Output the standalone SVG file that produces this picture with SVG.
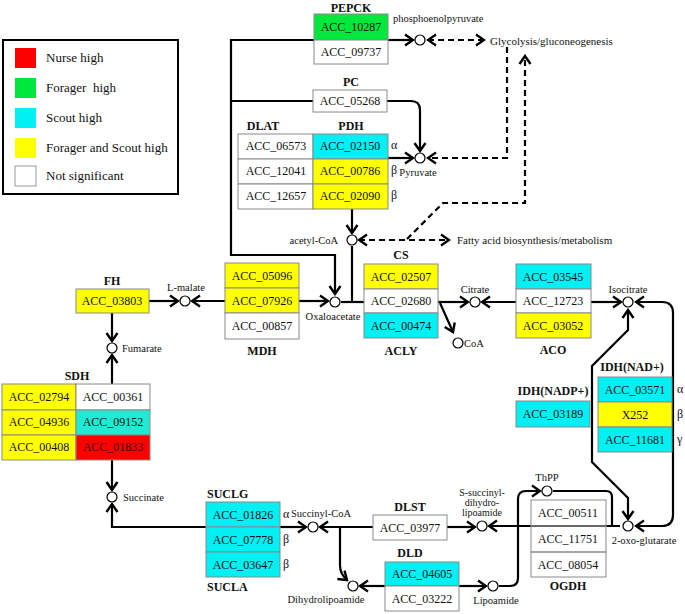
<svg xmlns="http://www.w3.org/2000/svg" width="685" height="614" viewBox="0 0 685 614">
<style>
  text { font-family: "Liberation Serif", "Times New Roman", serif; fill: #111; }
  .acc { font-size: 12px; text-anchor: middle; }
  .lbl { font-size: 12px; font-weight: bold; text-anchor: middle; }
  .met { font-size: 10.5px; }
  .mc { text-anchor: middle; }
  .gr { font-size: 12px; }
  .lg { font-size: 13px; }
  .cell { stroke: #8a8a8a; stroke-width: 1; }
  .y { fill: #ffff00; }
  .c { fill: #00f0f4; }
  .g { fill: #00e83c; }
  .r { fill: #ff0000; }
  .w { fill: #ffffff; }
  .t { fill: #20ead4; }
  .ln { fill: none; stroke: #000; stroke-width: 2.2; }
  .ds { fill: none; stroke: #000; stroke-width: 2.2; stroke-dasharray: 6 4; }
  .circ { fill: #fff; stroke: #000; stroke-width: 1.2; }
</style>
<defs>
  <marker id="ah" viewBox="0 0 12 14" refX="10" refY="7" markerWidth="12" markerHeight="14" orient="auto-start-reverse" markerUnits="userSpaceOnUse">
    <path d="M2,1.5 L10,7 L2,12.5" fill="none" stroke="#000" stroke-width="2.4"/>
  </marker>
</defs>

<g id="legend">
  <rect x="3" y="40" width="175" height="154" fill="#fff" stroke="#000" stroke-width="2"/>
  <rect x="15" y="48" width="21" height="20" class="r"/>
  <rect x="15" y="78" width="21" height="20" class="g"/>
  <rect x="15" y="108" width="21" height="20" class="c"/>
  <rect x="15" y="138" width="21" height="20" class="y"/>
  <rect x="15" y="166" width="21" height="20" fill="#fff" stroke="#999" stroke-width="1"/>
  <text x="46" y="62" class="lg">Nurse high</text>
  <text x="46" y="92" class="lg" xml:space="preserve">Forager  high</text>
  <text x="46" y="122" class="lg">Scout high</text>
  <text x="46" y="152" class="lg">Forager and Scout high</text>
  <text x="46" y="180" class="lg">Not significant</text>
</g>

<g id="connectors">
  <path class="ln" d="M314,40 H231 V255 H335 V294" marker-end="url(#ah)"/>
  <path class="ln" d="M388,40 H413" marker-end="url(#ah)"/>
  <path class="ln" d="M231,101 H313"/>
  <path class="ln" d="M387,101 H411 Q420,101 420,110 V151" marker-end="url(#ah)"/>
  <path class="ln" d="M388,158 H413" marker-end="url(#ah)"/>
  <path class="ln" d="M352,209 V233" marker-end="url(#ah)"/>
  <path class="ln" d="M352,246 V302 H364"/>
  <path class="ln" d="M341,302 H364"/>
  <path class="ds" d="M428,40 H484" marker-start="url(#ah)" marker-end="url(#ah)"/>
  <path class="ds" d="M507,47 V158 H428" marker-end="url(#ah)"/>
  <path class="ds" d="M359,240 H449" marker-start="url(#ah)" marker-end="url(#ah)"/>
  <path class="ds" d="M407,239 L443,203 H525 V56" marker-end="url(#ah)"/>
  <path class="ln" d="M225,301 H192" marker-end="url(#ah)"/>
  <path class="ln" d="M299,301 H328" marker-end="url(#ah)"/>
  <path class="ln" d="M149,301 H178" marker-end="url(#ah)"/>
  <path class="ln" d="M112,313 V341" marker-end="url(#ah)"/>
  <path class="ln" d="M112,384 V355" marker-end="url(#ah)"/>
  <path class="ln" d="M112,460 V490" marker-end="url(#ah)"/>
  <path class="ln" d="M206,527 H112 V504" marker-end="url(#ah)"/>
  <path class="ln" d="M438,302 H468" marker-end="url(#ah)"/>
  <path class="ln" d="M440,303 L453,332" marker-end="url(#ah)"/>
  <path class="ln" d="M516,302 H482" marker-end="url(#ah)"/>
  <path class="ln" d="M591,302 H621" marker-end="url(#ah)"/>
  <path class="ln" d="M628,310 V330 L592,366 V462 L628,498 V519" marker-start="url(#ah)" marker-end="url(#ah)"/>
  <path class="ln" d="M636,302 H662 Q673,302 673,313 V515 Q673,526 662,526 H636" marker-start="url(#ah)" marker-end="url(#ah)"/>
  <path class="ln" d="M620,526 H489" marker-end="url(#ah)"/>
  <path class="ln" d="M553,491 H606 Q612,491 612,497 V526"/>
  <path class="ln" d="M499,586 H510 Q518,586 518,578 V499 Q518,491 526,491 H540" marker-end="url(#ah)"/>
  <path class="ln" d="M447,527 H475" marker-end="url(#ah)"/>
  <path class="ln" d="M373,527 H320" marker-end="url(#ah)"/>
  <path class="ln" d="M340,527 V565 Q340,574 347,580" marker-end="url(#ah)"/>
  <path class="ln" d="M385,586 H360" marker-end="url(#ah)"/>
  <path class="ln" d="M459,586 H486" marker-end="url(#ah)"/>
  <path class="ln" d="M280,527 H306" marker-end="url(#ah)"/>
</g>

<g id="metabolites">
  <circle class="circ" cx="420" cy="40" r="5"/>
  <circle class="circ" cx="420" cy="158" r="5"/>
  <circle class="circ" cx="352" cy="240" r="5"/>
  <circle class="circ" cx="335" cy="302" r="5"/>
  <circle class="circ" cx="185" cy="301" r="5"/>
  <circle class="circ" cx="112" cy="348" r="5"/>
  <circle class="circ" cx="112" cy="497" r="5"/>
  <circle class="circ" cx="475" cy="302" r="5"/>
  <circle class="circ" cx="628" cy="302" r="5"/>
  <circle class="circ" cx="458" cy="343" r="5"/>
  <circle class="circ" cx="628" cy="526" r="5"/>
  <circle class="circ" cx="547" cy="491" r="5"/>
  <circle class="circ" cx="482" cy="526" r="5"/>
  <circle class="circ" cx="493" cy="586" r="5"/>
  <circle class="circ" cx="313" cy="527" r="5"/>
  <circle class="circ" cx="353" cy="586" r="5"/>
  <text x="393" y="22" class="met">phosphoenolpyruvate</text>
  <text x="490" y="45" class="met" style="font-size:11px">Glycolysis/gluconeogenesis</text>
  <text x="418" y="176" class="met mc">Pyruvate</text>
  <text x="338" y="244" class="met" text-anchor="end">acetyl-CoA</text>
  <text x="457" y="244" class="met" style="font-size:11px">Fatty acid biosynthesis/metabolism</text>
  <text x="186" y="291" class="met mc">L-malate</text>
  <text x="333" y="320" class="met mc">Oxaloacetate</text>
  <text x="475" y="293" class="met mc">Citrate</text>
  <text x="628" y="293" class="met mc">Isocitrate</text>
  <text x="464" y="347" class="met">CoA</text>
  <text x="122" y="352" class="met">Fumarate</text>
  <text x="123" y="501" class="met">Succinate</text>
  <text x="321" y="517" class="met mc">Succinyl-CoA</text>
  <text x="326" y="603" class="met mc">Dihydrolipoamide</text>
  <text x="482" y="496" class="met mc" style="font-size:10px">S-succinyl-</text>
  <text x="482" y="506" class="met mc" style="font-size:10px">dihydro-</text>
  <text x="482" y="516" class="met mc" style="font-size:10px">lipoamide</text>
  <text x="547" y="481" class="met mc">ThPP</text>
  <text x="496" y="604" class="met mc">Lipoamide</text>
  <text x="644" y="544" class="met mc">2-oxo-glutarate</text>
</g>

<g id="PEPCK">
  <text x="351" y="12" class="lbl">PEPCK</text>
  <rect x="314" y="14" width="74" height="26" class="cell g"/>
  <rect x="314" y="40" width="74" height="24" class="cell w"/>
  <text x="351" y="31" class="acc">ACC_10287</text>
  <text x="351" y="56" class="acc">ACC_09737</text>
</g>

<g id="PC">
  <text x="351" y="86" class="lbl">PC</text>
  <rect x="313" y="90" width="74" height="22" class="cell w"/>
  <text x="350" y="105" class="acc">ACC_05268</text>
</g>

<g id="DLAT">
  <text x="263" y="130" class="lbl">DLAT</text>
  <rect x="238" y="134" width="75" height="25" class="cell w"/>
  <rect x="238" y="159" width="75" height="25" class="cell w"/>
  <rect x="238" y="184" width="75" height="25" class="cell w"/>
  <text x="276" y="150" class="acc">ACC_06573</text>
  <text x="276" y="175" class="acc">ACC_12041</text>
  <text x="276" y="200" class="acc">ACC_12657</text>
</g>

<g id="PDH">
  <text x="351" y="130" class="lbl">PDH</text>
  <rect x="313" y="134" width="75" height="25" class="cell c"/>
  <rect x="313" y="159" width="75" height="25" class="cell y"/>
  <rect x="313" y="184" width="75" height="25" class="cell y"/>
  <text x="350" y="150" class="acc">ACC_02150</text>
  <text x="350" y="175" class="acc">ACC_00786</text>
  <text x="350" y="200" class="acc">ACC_02090</text>
  <text x="391" y="149" class="gr">α</text>
  <text x="391" y="174" class="gr">β</text>
  <text x="391" y="199" class="gr">β</text>
</g>

<g id="CS-ACLY">
  <text x="401" y="259" class="lbl">CS</text>
  <rect x="364" y="264" width="74" height="25" class="cell y"/>
  <rect x="364" y="289" width="74" height="24" class="cell w"/>
  <rect x="364" y="313" width="74" height="25" class="cell c"/>
  <text x="401" y="281" class="acc">ACC_02507</text>
  <text x="401" y="305" class="acc">ACC_02680</text>
  <text x="401" y="330" class="acc">ACC_00474</text>
  <text x="401" y="355" class="lbl">ACLY</text>
</g>

<g id="MDH">
  <rect x="225" y="263" width="74" height="25" class="cell y"/>
  <rect x="225" y="288" width="74" height="25" class="cell y"/>
  <rect x="225" y="313" width="74" height="26" class="cell w"/>
  <text x="262" y="280" class="acc">ACC_05096</text>
  <text x="262" y="305" class="acc">ACC_07926</text>
  <text x="262" y="330" class="acc">ACC_00857</text>
  <text x="262" y="355" class="lbl">MDH</text>
</g>

<g id="FH">
  <text x="112" y="285" class="lbl">FH</text>
  <rect x="76" y="289" width="73" height="24" class="cell y"/>
  <text x="112" y="305" class="acc">ACC_03803</text>
</g>

<g id="SDH">
  <text x="77" y="380" class="lbl">SDH</text>
  <rect x="2" y="384" width="74" height="26" class="cell y"/>
  <rect x="76" y="384" width="74" height="26" class="cell w"/>
  <rect x="2" y="410" width="74" height="25" class="cell y"/>
  <rect x="76" y="410" width="74" height="25" class="cell t"/>
  <rect x="2" y="435" width="74" height="25" class="cell y"/>
  <rect x="76" y="435" width="74" height="25" class="cell r"/>
  <text x="39" y="401" class="acc">ACC_02794</text>
  <text x="113" y="401" class="acc">ACC_00361</text>
  <text x="39" y="426" class="acc">ACC_04936</text>
  <text x="113" y="426" class="acc">ACC_09152</text>
  <text x="39" y="451" class="acc">ACC_00408</text>
  <text x="113" y="451" class="acc" style="fill:#3a0000">ACC_01833</text>
</g>

<g id="ACO">
  <rect x="516" y="264" width="75" height="25" class="cell c"/>
  <rect x="516" y="289" width="75" height="24" class="cell w"/>
  <rect x="516" y="313" width="75" height="25" class="cell y"/>
  <text x="553" y="281" class="acc">ACC_03545</text>
  <text x="553" y="305" class="acc">ACC_12723</text>
  <text x="553" y="330" class="acc">ACC_03052</text>
  <text x="553" y="354" class="lbl">ACO</text>
</g>

<g id="IDH-NADP">
  <text x="553" y="395" class="lbl">IDH(NADP+)</text>
  <rect x="516" y="401" width="74" height="26" class="cell c"/>
  <text x="553" y="418" class="acc">ACC_03189</text>
</g>

<g id="IDH-NAD">
  <text x="632" y="371" class="lbl">IDH(NAD+)</text>
  <rect x="598" y="377" width="74" height="25" class="cell c"/>
  <rect x="598" y="402" width="74" height="25" class="cell y"/>
  <rect x="598" y="427" width="74" height="25" class="cell c"/>
  <text x="635" y="394" class="acc">ACC_03571</text>
  <text x="635" y="419" class="acc">X252</text>
  <text x="635" y="444" class="acc">ACC_11681</text>
  <text x="677" y="393" class="gr">α</text>
  <text x="677" y="418" class="gr">β</text>
  <text x="677" y="443" class="gr">γ</text>
</g>

<g id="SUCLG">
  <text x="207" y="498" class="lbl" style="text-anchor:start">SUCLG</text>
  <rect x="206" y="502" width="74" height="25" class="cell c"/>
  <rect x="206" y="527" width="74" height="25" class="cell c"/>
  <rect x="206" y="552" width="74" height="25" class="cell c"/>
  <text x="243" y="519" class="acc">ACC_01826</text>
  <text x="243" y="544" class="acc">ACC_07778</text>
  <text x="243" y="569" class="acc">ACC_03647</text>
  <text x="283" y="518" class="gr">α</text>
  <text x="283" y="543" class="gr">β</text>
  <text x="283" y="568" class="gr">β</text>
  <text x="207" y="591" class="lbl" style="text-anchor:start">SUCLA</text>
</g>

<g id="DLST">
  <text x="410" y="511" class="lbl">DLST</text>
  <rect x="373" y="515" width="74" height="25" class="cell w"/>
  <text x="410" y="532" class="acc">ACC_03977</text>
</g>

<g id="DLD">
  <text x="410" y="557" class="lbl">DLD</text>
  <rect x="385" y="562" width="74" height="24" class="cell c"/>
  <rect x="385" y="586" width="74" height="25" class="cell w"/>
  <text x="422" y="578" class="acc">ACC_04605</text>
  <text x="422" y="603" class="acc">ACC_03222</text>
</g>

<g id="OGDH">
  <rect x="531" y="500" width="75" height="26" class="cell" style="fill:none"/>
  <rect x="531" y="526" width="75" height="26" class="cell" style="fill:none"/>
  <rect x="531" y="552" width="75" height="25" class="cell" style="fill:none"/>
  <text x="568" y="517" class="acc">ACC_00511</text>
  <text x="568" y="543" class="acc">ACC_11751</text>
  <text x="568" y="569" class="acc">ACC_08054</text>
  <text x="568" y="590" class="lbl">OGDH</text>
</g>
</svg>
